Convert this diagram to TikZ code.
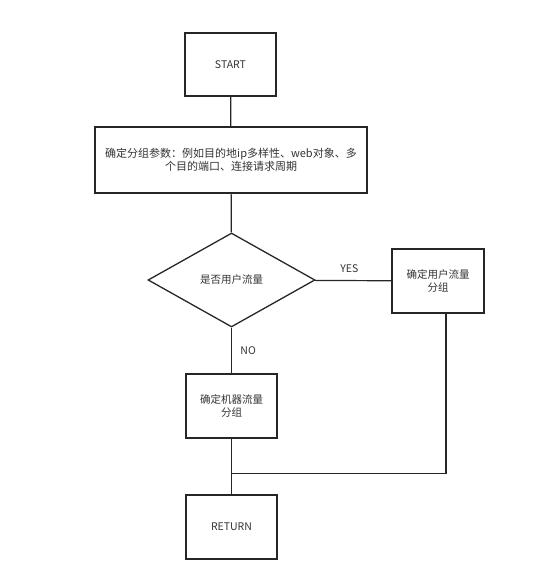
\documentclass[tikz,border=0pt]{standalone}
\usepackage{fontspec}
\newfontfamily\cjk{Noto Sans CJK SC}
\usetikzlibrary{calc,positioning,shapes.geometric}
\tikzset{
    stepbox/.style={
        rectangle,
        draw=black!85, line width=1.3pt,
        minimum width=91pt,
        minimum height=63pt,
        inner sep=2pt,
        align=center,
        text=black!80,
        font=\cjk\fontsize{10.5}{13}\selectfont
    },
    widebox/.style={
        stepbox,
        minimum width=272pt,
        minimum height=66pt,
        font=\cjk\fontsize{11}{13}\selectfont
    },
    decision/.style={
        diamond,
        draw=black!85, line width=1.3pt,
        minimum width=167pt,
        minimum height=94pt,
        inner sep=0pt,
        text=black!80,
        font=\cjk\fontsize{10.5}{13}\selectfont
    },
    line/.style={draw=black!85, line width=1.2pt},
    tag/.style={text=black!80, font=\cjk\fontsize{10.5}{13}\selectfont}
}
\begin{document}
\begin{tikzpicture}
\useasboundingbox (0,0) rectangle (533pt,585pt);
\node[stepbox] (start) at (230.5pt,520.5pt) {START};
\node[widebox] (params) at (231pt,425pt) {确定分组参数：例如目的地ip多样性、web对象、多\\个目的端口、连接请求周期};
\node[decision] (isuser) at (231.5pt,305pt) {是否用户流量};
\node[stepbox, minimum width=92pt, minimum height=64pt] (user) at (438pt,304pt) {确定用户流量\\分组};
\node[stepbox, minimum height=64pt] (machine) at (231.5pt,179pt) {确定机器流量\\分组};
\node[stepbox, minimum height=64pt] (return) at (231.5pt,58pt) {RETURN};
\coordinate (merge) at ($(machine.south)+(0,-35pt)$);
\draw[line] (start) -- (params);
\draw[line] (params) -- (isuser);
\draw[line] (isuser) -- node[tag, above=4pt, pos=0.45] {YES} (user);
\draw[line] (isuser) -- node[tag, right=5pt] {NO} (machine);
\draw[line] (machine) -- (return);
\draw[line] ($(user.south)+(8pt,0)$) |- (merge);
\end{tikzpicture}
\end{document}
